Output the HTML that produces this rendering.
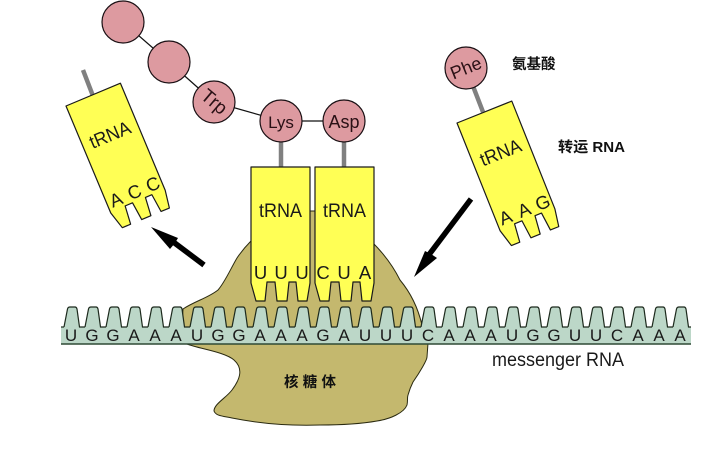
<!DOCTYPE html>
<html>
<head>
<meta charset="utf-8">
<style>
html,body{margin:0;padding:0;background:#fff}
svg{display:block}
text{font-family:"Liberation Sans","Noto Sans CJK SC",sans-serif;fill:#1a1a1a}
.t{font-size:19px;text-anchor:middle}
.b{font-size:18.5px;text-anchor:middle}
.m{font-size:17px;text-anchor:middle}
.a{font-size:17px;text-anchor:middle;fill:#2a1015}
.z{font-weight:700;font-size:14.5px;fill:#111}
</style>
</head>
<body>
<svg width="715" height="451" viewBox="0 0 715 451" xmlns="http://www.w3.org/2000/svg">
<defs>
<path id="trna" d="M0 0H59V116L56 134H47L45 115H38L36 134H26L24 115H16L14 134H5L0 116Z" fill="#ffff55" stroke="#1a1a1a" stroke-width="1.2" stroke-linejoin="round"/>
<path id="tf" d="M0 327.5L3.5 309Q4 307 6 307H11Q12.5 307 13 309L15.5 327.5Z" fill="#bcd7c8"/>
<path id="ts" d="M0 327L3.5 309Q4 307 6 307H11Q12.5 307 13 309L15.5 327H21" fill="none" stroke="#1d2a1d" stroke-width="1.2"/>
<g id="tooth"><use href="#tf"/><use href="#ts"/></g>
</defs>

<!-- ribosome -->
<path d="M251 241C244 248 241 252 237 258C231 268 225 282 218 290C208 298 195 301 183 309L182 326L187 344C200 349 225 352 234 360C243 368 241 378 232 390C226 398 214 404 214 411C216 416 222 416 232 418C262 424 290 426 320 425C340 425 360 424 377 421C390 419 404 413 407 405C408 400 407 398 408 395C410 388 412 384 413 382C420 372 427 360 427 357L428 343L426 335L422 325C418 308 410 292 400 280C392 264 382 252 373 243L373 211H251Z" fill="#c4b86e" stroke="#2a2a10" stroke-width="1"/>

<!-- mRNA -->
<rect x="61" y="327" width="630" height="17" fill="#bcd7c8"/>
<path d="M61 327H64" stroke="#1d2a1d" stroke-width="1.2"/>
<use href="#tooth" x="64"/><use href="#tooth" x="85"/><use href="#tooth" x="106"/><use href="#tooth" x="127"/><use href="#tooth" x="148"/><use href="#tooth" x="169"/><use href="#tooth" x="190"/><use href="#tooth" x="211"/><use href="#tooth" x="232"/><use href="#tooth" x="253"/><use href="#tooth" x="274"/><use href="#tooth" x="295"/><use href="#tooth" x="316"/><use href="#tooth" x="337"/><use href="#tooth" x="358"/><use href="#tooth" x="379"/><use href="#tooth" x="400"/><use href="#tooth" x="421"/><use href="#tooth" x="442"/><use href="#tooth" x="463"/><use href="#tooth" x="484"/><use href="#tooth" x="505"/><use href="#tooth" x="526"/><use href="#tooth" x="547"/><use href="#tooth" x="568"/><use href="#tooth" x="589"/><use href="#tooth" x="610"/><use href="#tooth" x="631"/><use href="#tooth" x="652"/><use href="#tf" x="673"/><path d="M673 327L676.5 309Q677 307 679 307H684Q685.5 307 686 309L688.5 327H691" fill="none" stroke="#1d2a1d" stroke-width="1.2"/>
<line x1="61" y1="344" x2="691" y2="344" stroke="#2f4a35" stroke-width="1.5"/>
<text class="m" x="71" y="341">U</text><text class="m" x="92" y="341">G</text><text class="m" x="113" y="341">G</text><text class="m" x="134" y="341">A</text><text class="m" x="155" y="341">A</text><text class="m" x="176" y="341">A</text><text class="m" x="197" y="341">U</text><text class="m" x="218" y="341">G</text><text class="m" x="239" y="341">G</text><text class="m" x="260" y="341">A</text><text class="m" x="281" y="341">A</text><text class="m" x="302" y="341">A</text><text class="m" x="323" y="341">G</text><text class="m" x="344" y="341">A</text><text class="m" x="365" y="341">U</text><text class="m" x="386" y="341">U</text><text class="m" x="407" y="341">U</text><text class="m" x="428" y="341">C</text><text class="m" x="449" y="341">A</text><text class="m" x="470" y="341">A</text><text class="m" x="491" y="341">A</text><text class="m" x="512" y="341">U</text><text class="m" x="533" y="341">G</text><text class="m" x="554" y="341">G</text><text class="m" x="575" y="341">U</text><text class="m" x="596" y="341">U</text><text class="m" x="617" y="341">C</text><text class="m" x="638" y="341">A</text><text class="m" x="659" y="341">A</text><text class="m" x="680" y="341">A</text>

<!-- chain -->
<g stroke="#111" stroke-width="1.2">
<line x1="123" y1="22" x2="169" y2="62"/>
<line x1="169" y1="62" x2="214" y2="102"/>
<line x1="214" y1="102" x2="281" y2="121"/>
<line x1="281" y1="121" x2="344" y2="121"/>
</g>
<!-- sticks -->
<g stroke="#808080" stroke-width="4.5">
<line x1="281" y1="142" x2="281" y2="168"/>
<line x1="344" y1="142" x2="344" y2="168"/>
<line x1="83" y1="70" x2="93" y2="96"/>
<line x1="466" y1="68" x2="483" y2="112"/>
</g>
<g fill="#dd9aa0" stroke="#1a1014" stroke-width="1.2">
<circle cx="123" cy="22" r="21"/>
<circle cx="169" cy="62" r="21"/>
<circle cx="214" cy="102" r="21"/>
<circle cx="281" cy="121" r="21"/>
<circle cx="344" cy="121" r="21"/>
<circle cx="466" cy="68" r="21"/>
</g>
<text class="a" style="font-size:19px" transform="translate(214 102) rotate(40)" y="6">Trp</text>
<text class="a" x="281" y="128">Lys</text>
<text class="a" style="font-size:18px" x="344" y="128">Asp</text>
<text class="a" style="font-size:18px" transform="translate(466 68) rotate(-22)" y="6">Phe</text>

<!-- center tRNAs -->
<g transform="translate(251 167)">
<use href="#trna"/>
<text class="t" x="29.5" y="50" textLength="43" lengthAdjust="spacingAndGlyphs">tRNA</text>
<text class="b" x="9.5" y="112">U</text><text class="b" x="30" y="112">U</text><text class="b" x="51" y="112">U</text>
</g>
<g transform="translate(315 167)">
<use href="#trna"/>
<text class="t" x="29.5" y="50" textLength="43" lengthAdjust="spacingAndGlyphs">tRNA</text>
<text class="b" x="8" y="112">C</text><text class="b" x="29" y="112">U</text><text class="b" x="50" y="112">A</text>
</g>

<!-- left tRNA -->
<g transform="translate(66 106) rotate(-22.7)">
<use href="#trna"/>
<text class="t" x="29.5" y="50" textLength="43" lengthAdjust="spacingAndGlyphs">tRNA</text>
<text class="b" x="10" y="112">A</text><text class="b" x="30" y="112">C</text><text class="b" x="50" y="112">C</text>
</g>
<!-- right tRNA -->
<g transform="translate(457 123) rotate(-21.8)">
<use href="#trna"/>
<text class="t" x="29.5" y="50" textLength="43" lengthAdjust="spacingAndGlyphs">tRNA</text>
<text class="b" x="10" y="112">A</text><text class="b" x="30" y="112">A</text><text class="b" x="50" y="112">G</text>
</g>

<!-- arrows -->
<path d="M204 265L172 241" stroke="#000" stroke-width="5.5" fill="none"/>
<path d="M151 227L178 238L175 243L170 249Z" fill="#000"/>
<path d="M471 199L428 256" stroke="#000" stroke-width="5.5" fill="none"/>
<path d="M414 277L425 251L431 254L437 258Z" fill="#000"/>

<!-- labels -->
<text class="z" x="512" y="69">氨基酸</text>
<text class="z" x="558" y="152" textLength="67" lengthAdjust="spacingAndGlyphs">转运 RNA</text>
<text class="z" x="284" y="387" textLength="52">核糖体</text>
<text x="492" y="366" font-size="19" textLength="132" lengthAdjust="spacingAndGlyphs">messenger RNA</text>
</svg>
</body>
</html>
